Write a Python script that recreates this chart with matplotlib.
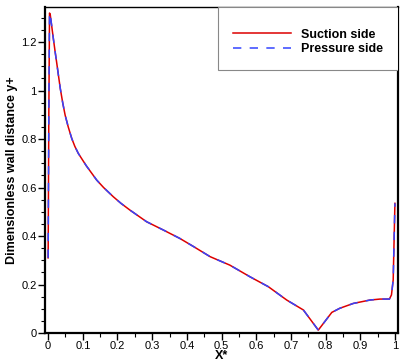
import matplotlib.pyplot as plt
import matplotlib.patches as mpatches
from matplotlib.ticker import MultipleLocator, FormatStrFormatter

plt.rcParams['font.family'] = ['Liberation Sans', 'DejaVu Sans']
plt.rcParams['lines.scale_dashes'] = False

# chordwise position X* and y+
x_star = [0.0, 0.002, 0.004, 0.006, 0.01, 0.015, 0.02, 0.025, 0.03, 0.035,
          0.042, 0.049, 0.058, 0.068, 0.077, 0.087, 0.11, 0.14, 0.16, 0.188,
          0.21, 0.236, 0.284, 0.332, 0.38, 0.42, 0.467, 0.524, 0.582,
          0.635, 0.688, 0.736, 0.779, 0.818, 0.841, 0.88, 0.928, 0.957, 0.984,
          0.99, 0.995, 1.0]
yplus_suction = [0.31, 0.9, 1.32, 1.314, 1.27, 1.215, 1.162, 1.112, 1.06, 1.009,
                 0.95, 0.899, 0.85, 0.803, 0.77, 0.741, 0.69, 0.631, 0.6, 0.562,
                 0.535, 0.507, 0.459, 0.425, 0.39, 0.356, 0.315, 0.28, 0.232,
                 0.191, 0.136, 0.095, 0.012, 0.085, 0.102, 0.122, 0.136, 0.14, 0.14,
                 0.157, 0.219, 0.535]
yplus_pressure = list(yplus_suction)

fig = plt.figure(figsize=(4.07, 3.62), dpi=100)
ax = fig.add_axes([0.1106, 0.0801, 0.8674, 0.9006])

ax.plot(x_star, yplus_suction, color='#dd0000', lw=1.1, label='Suction side')
ax.plot(x_star, yplus_pressure, color='#3344ff', lw=1.1, dashes=(6, 6),
        label='Pressure side')

ax.set_xlim(-0.009, 1.009)
ax.set_ylim(0, 1.345)
ax.xaxis.set_major_locator(MultipleLocator(0.1))
ax.xaxis.set_minor_locator(MultipleLocator(0.05))
ax.yaxis.set_major_locator(MultipleLocator(0.2))
ax.yaxis.set_minor_locator(MultipleLocator(0.05))
ax.xaxis.set_major_formatter(FormatStrFormatter('%g'))
ax.yaxis.set_major_formatter(FormatStrFormatter('%g'))
ax.tick_params(which='major', length=5, width=1, labelsize=8, pad=1)
ax.tick_params(which='minor', length=3, width=0.8)

for side in ['left', 'bottom', 'right']:
    ax.spines[side].set_linewidth(1.6)
ax.spines['top'].set_linewidth(1.0)

ax.set_xlabel('X*', fontsize=9, fontweight='bold', labelpad=-1)
ax.set_ylabel('Dimensionless wall distance y+', fontsize=9, fontweight='bold',
              labelpad=2)

# legend frame flush with the upper right corner
frame = mpatches.Rectangle((0.49, 0.807), 0.51, 0.193, transform=ax.transAxes,
                           facecolor='white', edgecolor='#888888', lw=0.8,
                           zorder=3)
ax.add_patch(frame)
leg = ax.legend(loc='upper left', bbox_to_anchor=(0.533, 0.933), frameon=False,
                borderaxespad=0, borderpad=0, handlelength=4.6,
                handletextpad=0.8, labelspacing=0.2,
                prop={'size': 9, 'weight': 'bold'})
leg.set_zorder(4)

fig.savefig('out.png', dpi=100)
